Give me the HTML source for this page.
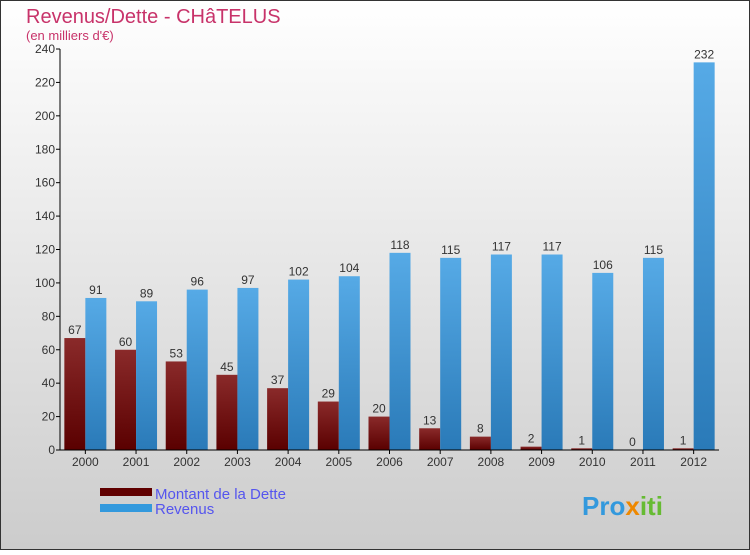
<!DOCTYPE html>
<html><head><meta charset="utf-8"><style>
body{margin:0}
#c{width:750px;height:550px;position:relative;font-family:"Liberation Sans",sans-serif}
</style></head><body>
<div id="c">
<svg width="750" height="550" xmlns="http://www.w3.org/2000/svg">
<defs>
<linearGradient id="bg" x1="0" y1="0" x2="0" y2="1"><stop offset="0" stop-color="#ffffff"/><stop offset="1" stop-color="#cccccc"/></linearGradient>
<linearGradient id="gd" x1="0" y1="0" x2="0" y2="1"><stop offset="0" stop-color="#8a2a2a"/><stop offset="1" stop-color="#5a0000"/></linearGradient>
<linearGradient id="gr" x1="0" y1="0" x2="0" y2="1"><stop offset="0" stop-color="#56aae6"/><stop offset="1" stop-color="#2a7ab8"/></linearGradient>
</defs>
<rect x="0.5" y="0.5" width="749" height="549" fill="url(#bg)" stroke="#333"/>
<text x="26" y="23" font-size="20" fill="#c8336a">Revenus/Dette - CHâTELUS</text>
<text x="26" y="40" font-size="13" fill="#c8336a">(en milliers d'€)</text>
<g id="plot"></g>
<rect x="100" y="488" width="52" height="8" fill="#600000"/>
<text x="155" y="499" font-size="15" fill="#5555ee">Montant de la Dette</text>
<rect x="100" y="504" width="52" height="8" fill="#3399dd"/>
<text x="155" y="514" font-size="15" fill="#5555ee">Revenus</text>
<text x="582" y="515" font-size="26" font-weight="bold" fill="#3399dd">Pro<tspan fill="#ee8800">x</tspan><tspan fill="#66bb33">iti</tspan></text>
</svg>
</div>
<script>
const years=["2000","2001","2002","2003","2004","2005","2006","2007","2008","2009","2010","2011","2012"];
const debt=[67,60,53,45,37,29,20,13,8,2,1,0,1];
const revenue=[91,89,96,97,102,104,118,115,117,117,106,115,232];
const yTicks=[0,20,40,60,80,100,120,140,160,180,200,220,240];
const NS="http://www.w3.org/2000/svg";
const g=document.getElementById("plot");
const x0=60,x1=719,y0=450,y1=49,ymax=240;
const yS=v=>y0-(v/ymax)*(y0-y1);
const gw=(x1-x0)/years.length;
function el(t,a){const e=document.createElementNS(NS,t);for(const k in a)e.setAttribute(k,a[k]);g.appendChild(e);return e;}
yTicks.forEach(t=>{
 const l=el("line",{x1:x0-4,x2:x0,y1:yS(t),y2:yS(t),stroke:"#000"});
 
 
 const tx=el("text",{x:x0-5,y:yS(t)+4,"font-size":12,"text-anchor":"end",fill:"#333"});tx.textContent=t;
 
 
});
years.forEach((yr,i)=>{
 const cx=x0+gw*(i+0.5);
 const bw=21;
 const bd=el("rect",{x:cx-bw,y:yS(debt[i]),width:bw,height:y0-yS(debt[i]),fill:"url(#gd)"});
 
 
 const br=el("rect",{x:cx,y:yS(revenue[i]),width:bw,height:y0-yS(revenue[i]),fill:"url(#gr)"});
 
 
 const t1=el("text",{x:cx-bw/2,y:yS(debt[i])-4,"font-size":12,"text-anchor":"middle",fill:"#333"});t1.textContent=debt[i];
 
 
 const t2=el("text",{x:cx+bw/2,y:yS(revenue[i])-4,"font-size":12,"text-anchor":"middle",fill:"#333"});t2.textContent=revenue[i];
 
 
 const tk=el("line",{x1:cx,x2:cx,y1:y0,y2:y0+4,stroke:"#000"});
 
 
 const xl=el("text",{x:cx,y:y0+16,"font-size":12,"text-anchor":"middle",fill:"#333"});xl.textContent=yr;
 
 
});
const ya=el("line",{x1:x0,x2:x0,y1:y1,y2:y0,stroke:"#000"});


const xa=el("line",{x1:x0,x2:x1,y1:y0,y2:y0,stroke:"#000"});


</script>
</body></html>
